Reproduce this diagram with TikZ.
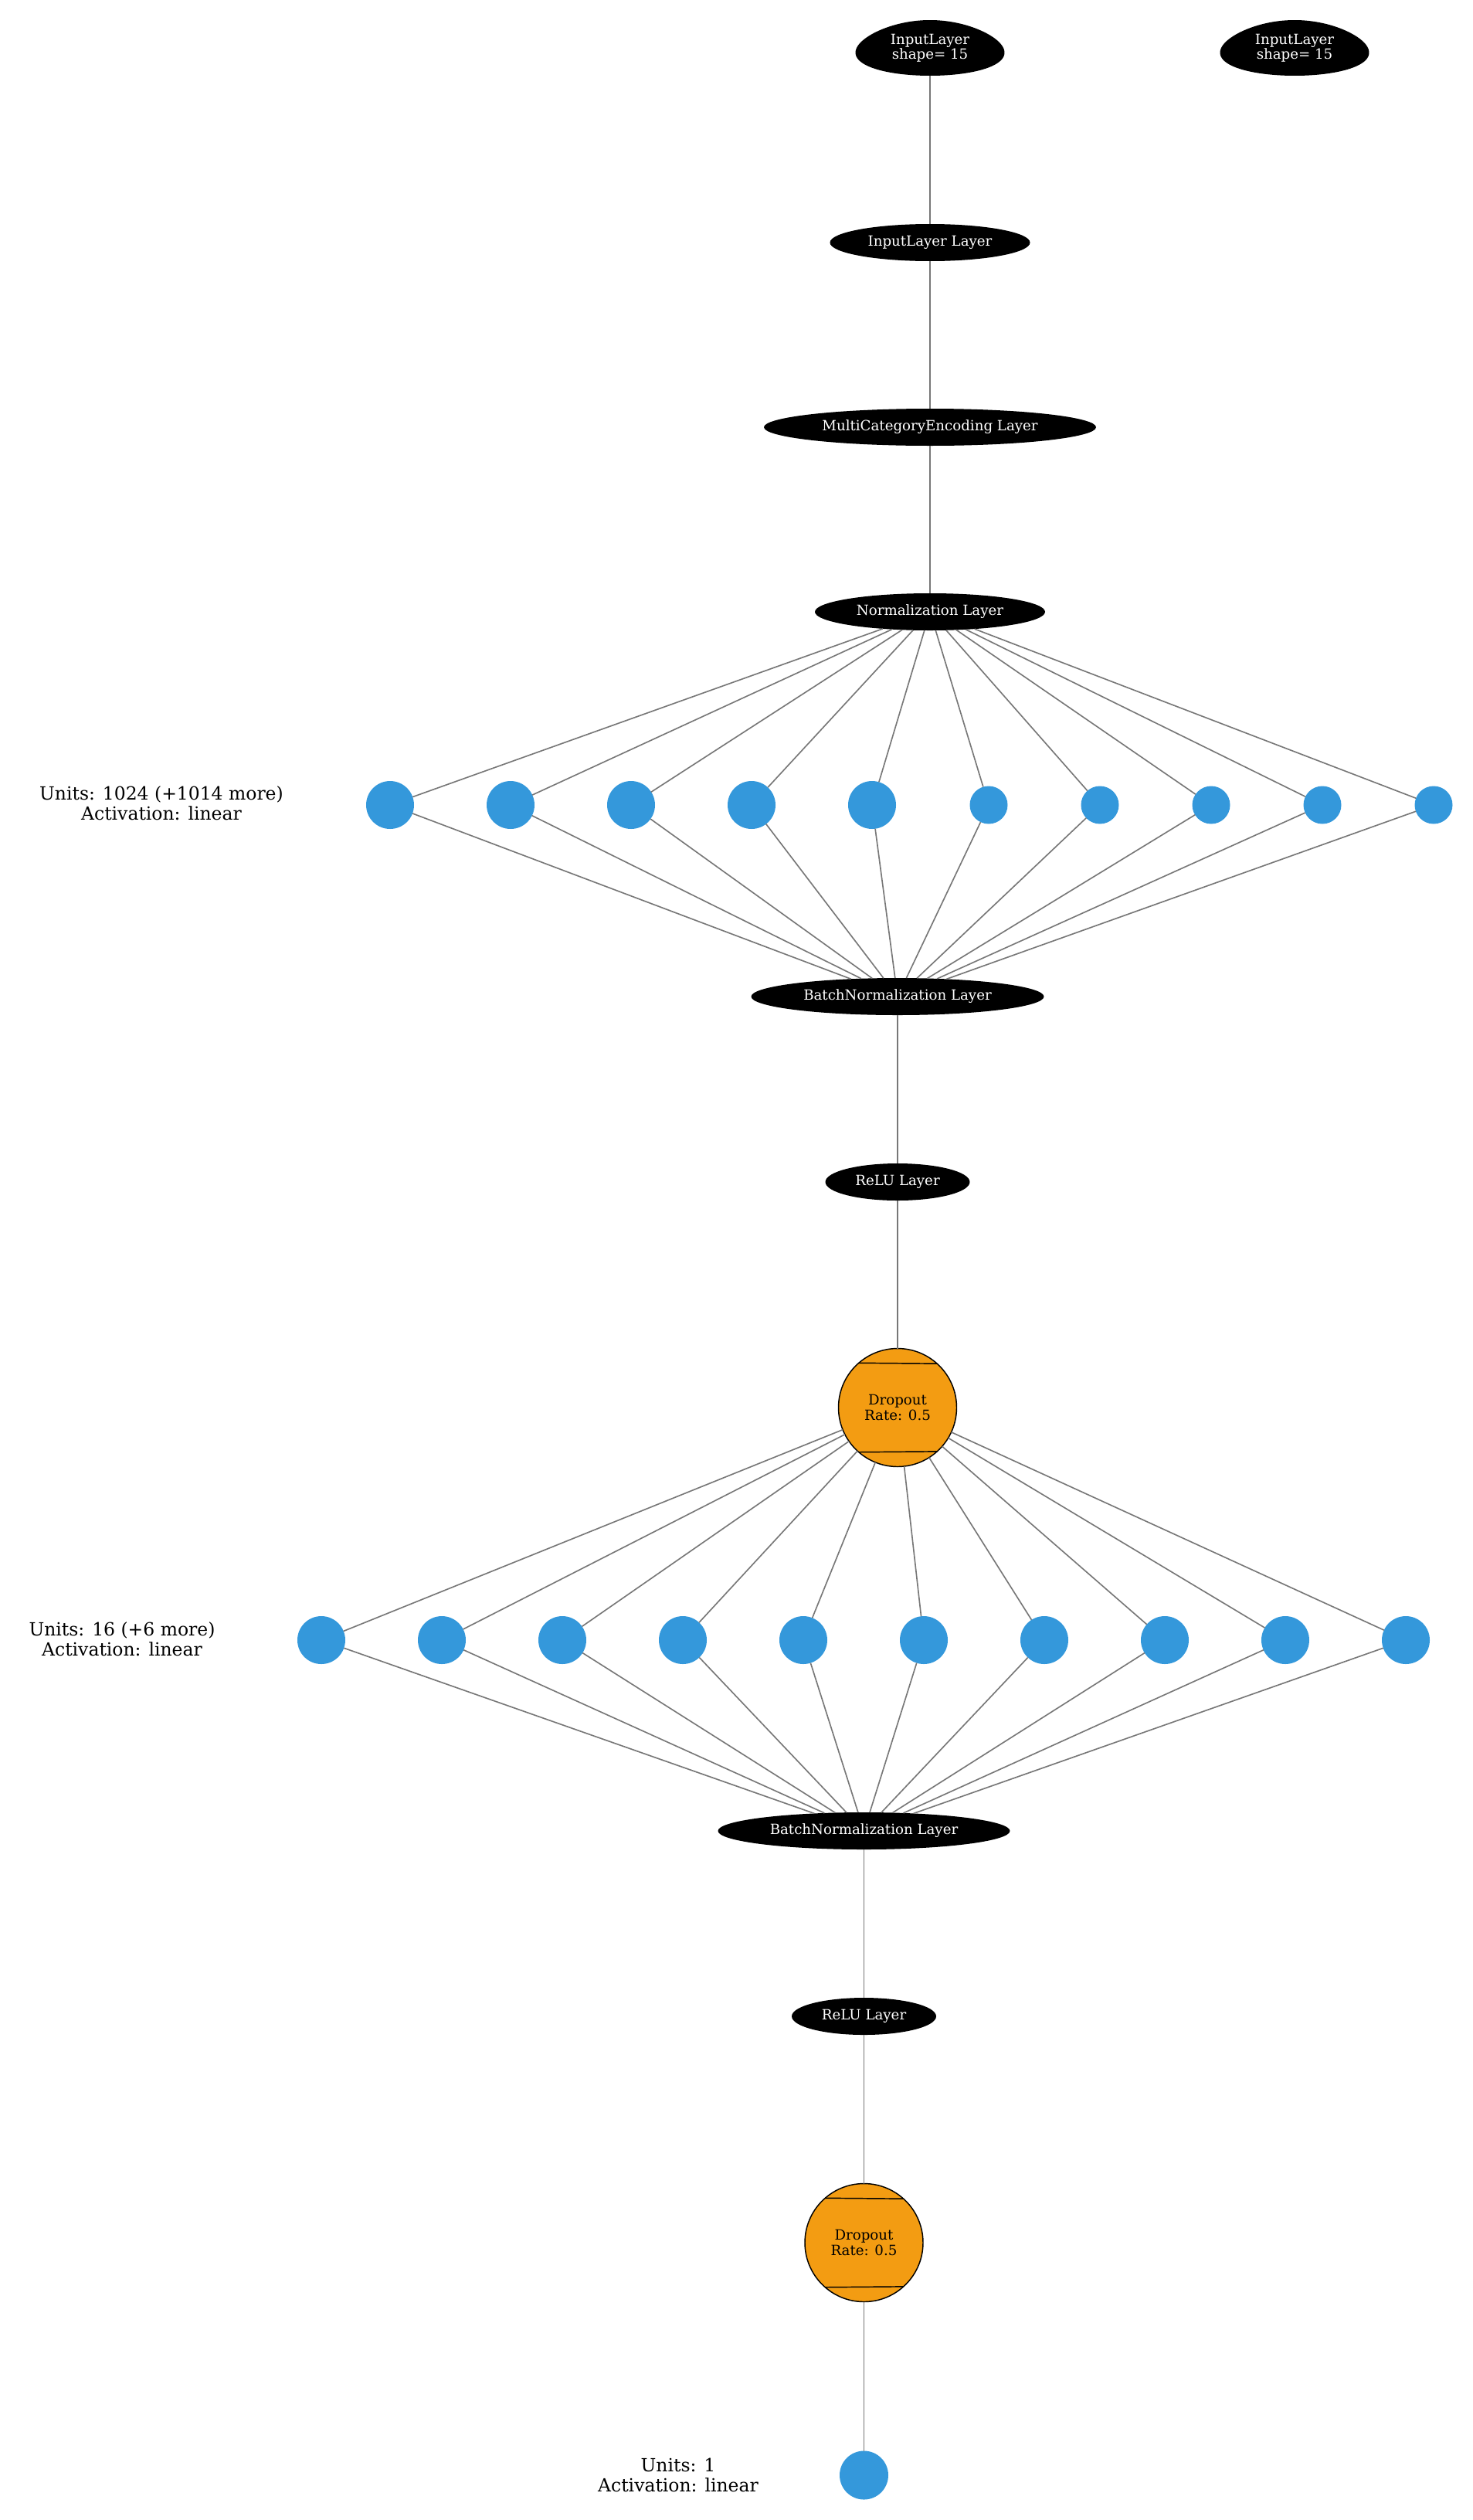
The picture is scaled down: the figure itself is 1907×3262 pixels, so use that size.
\documentclass[tikz,border=0pt]{standalone}
\usepackage{fontspec}
\setmainfont{DejaVu Serif}
\usetikzlibrary{shapes.geometric,backgrounds}
\definecolor{unitblue}{HTML}{3498DB}
\definecolor{droporange}{HTML}{F39C12}
\definecolor{edgegray}{HTML}{777777}
\begin{document}
\begin{tikzpicture}[x=0.5495pt,y=-0.5495pt,
  layerfont/.style={font=\fontsize{10}{10.6}\selectfont},
  labelfont/.style={font=\fontsize{12.9}{14.1}\selectfont},
  layer/.style={ellipse, fill=black, text=white, inner sep=0pt, outer sep=0pt,
    minimum height=48*0.5495pt, minimum width=#1*0.5495pt, layerfont},
  inputegg/.style={ellipse, text=white, inner sep=0pt, outer sep=0pt, align=center,
    minimum height=72*0.5495pt, minimum width=193*0.5495pt, layerfont},
  unit/.style={circle, fill=unitblue, draw=none, inner sep=0pt, outer sep=0pt,
    minimum size=#1*0.5495pt},
  dropout/.style={circle, fill=droporange, draw=black, line width=0.8pt, inner sep=0pt,
    outer sep=0pt, minimum size=153*0.5495pt, align=center, layerfont},
  info/.style={align=center, inner sep=0pt, labelfont},
  edge/.style={draw=edgegray, line width=0.9pt},
  chord/.style={draw=black, line width=0.8pt}
]
\useasboundingbox (0,0) rectangle (1907,3262);

% input nodes (egg shaped)
\node[inputegg] (in1) at (1204,62) {InputLayer\\shape= 15};
\node[inputegg] (in2) at (1676,62) {InputLayer\\shape= 15};
\begin{scope}[on background layer]
  \foreach \n in {in1,in2}
    \fill[black, shift={(\n)}] plot[domain=0:360, samples=144, variable=\t]
      ({96.5*cos(\t)*(1+0.18*sin(\t))/1.016}, {36*sin(\t)}) -- cycle;
\end{scope}

% preprocessing layers
\node[layer=259] (il) at (1204,314) {InputLayer Layer};
\node[layer=430] (mce) at (1204,553) {MultiCategoryEncoding Layer};
\node[layer=298] (norm) at (1204,792) {Normalization Layer};

% first dense layer
\node[info] (lab1) at (209,1040) {Units: 1024 (+1014 more)\\Activation: linear};
\foreach \i/\x in {1/505,2/661,3/817,4/973,5/1129}
  \node[unit=62] (a\i) at (\x,1042) {};
\foreach \i/\x in {6/1280,7/1424,8/1568,9/1712,10/1856}
  \node[unit=49] (a\i) at (\x,1042) {};

\node[layer=379] (bn1) at (1162,1290) {BatchNormalization Layer};
\node[layer=187] (relu1) at (1162,1530) {ReLU Layer};
\node[dropout] (drop1) at (1162,1822) {Dropout\\Rate: 0.5};

% second dense layer
\node[info] (lab2) at (158,2122) {Units: 16 (+6 more)\\Activation: linear};
\foreach \i in {1,...,10}
  \node[unit=62] (b\i) at ({416+156*(\i-1)},2123) {};

\node[layer=378] (bn2) at (1118.5,2370) {BatchNormalization Layer};
\node[layer=187] (relu2) at (1118.5,2610) {ReLU Layer};
\node[dropout] (drop2) at (1118.5,2903) {Dropout\\Rate: 0.5};

% output layer
\node[info] (lab3) at (878,3204) {Units: 1\\Activation: linear};
\node[unit=63] (out) at (1118.5,3204) {};

% dropout markers
\foreach \d in {drop1,drop2} {
  \draw[chord] (\d.48.7) -- (\d.131.3);
  \draw[chord] (\d.-48.7) -- (\d.-131.3);
}

% connectors
\draw[edge] (in1) -- (il);
\draw[edge] (il) -- (mce);
\draw[edge] (mce) -- (norm);
\foreach \i in {1,...,10} {
  \draw[edge] (norm) -- (a\i);
  \draw[edge] (a\i) -- (bn1);
}
\draw[edge] (bn1) -- (relu1);
\draw[edge] (relu1) -- (drop1);
\foreach \i in {1,...,10} {
  \draw[edge] (drop1) -- (b\i);
  \draw[edge] (b\i) -- (bn2);
}
\draw[edge] (bn2) -- (relu2);
\draw[edge] (relu2) -- (drop2);
\draw[edge] (drop2) -- (out);
\end{tikzpicture}
\end{document}
